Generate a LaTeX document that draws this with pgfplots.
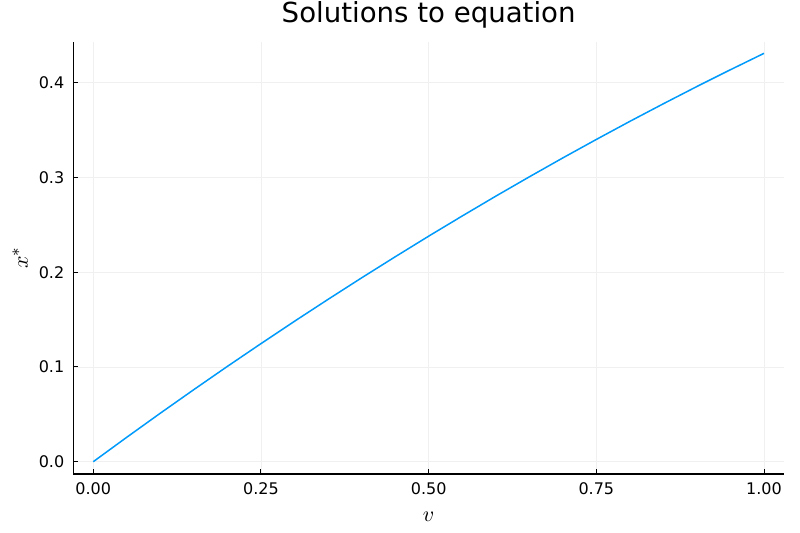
\documentclass[border=0pt]{standalone}
\usepackage{fontspec}
\setmainfont{DejaVu Sans}
\usepackage{pgfplots}
\pgfplotsset{compat=1.18}
\definecolor{juliablue}{HTML}{009AFA}
\begin{document}
\begin{tikzpicture}
\path[use as bounding box] (-36.65pt,-29.5pt) rectangle (363.35pt,237pt);
\begin{axis}[
    at={(0,0)}, anchor=south west,
    scale only axis,
    width=355.35pt, height=216.15pt,
    axis lines=left,
    axis line style={-, line width=0.55pt},
    xmin=-0.0298, xmax=1.0298,
    ymin=-0.013, ymax=0.4433,
    xtick={0,0.25,0.5,0.75,1},
    ytick={0,0.1,0.2,0.3,0.4},
    x tick label style={/pgf/number format/.cd, fixed, fixed zerofill, precision=2},
    y tick label style={/pgf/number format/.cd, fixed, fixed zerofill, precision=1},
    /pgf/number format/assume math mode=true,
    tick label style={font=\fontsize{8}{9}\selectfont},
    tick align=inside,
    major tick length=2.6pt,
    tick style={black, line width=0.5pt},
    xticklabel shift=1pt,
    yticklabel shift=1pt,
    grid=major,
    grid style={gray!12, line width=0.4pt},
    title={Solutions to equation},
    title style={at={(axis description cs:0.5,1)}, anchor=center, yshift=7.35pt, font=\fontsize{13.8}{16}\selectfont},
    xlabel={$v$},
    ylabel={$x^*$},
    xlabel style={at={(axis description cs:0.5,0)}, anchor=center, yshift=-21.5pt, font=\fontsize{11}{13}\selectfont},
    ylabel style={at={(axis description cs:0,0.5)}, anchor=center, yshift=26.6pt, font=\fontsize{11}{13}\selectfont},
]
\addplot[juliablue, line width=0.75pt, no markers] coordinates {
    (0.00,0.0000)
    (0.05,0.0258)
    (0.10,0.0512)
    (0.15,0.0761)
    (0.20,0.1006)
    (0.25,0.1246)
    (0.30,0.1482)
    (0.35,0.1713)
    (0.40,0.1940)
    (0.45,0.2162)
    (0.50,0.2380)
    (0.55,0.2593)
    (0.60,0.2802)
    (0.65,0.3006)
    (0.70,0.3206)
    (0.75,0.3401)
    (0.80,0.3592)
    (0.85,0.3778)
    (0.90,0.3960)
    (0.95,0.4137)
    (1.00,0.4310)
};
\end{axis}
\end{tikzpicture}
\end{document}
